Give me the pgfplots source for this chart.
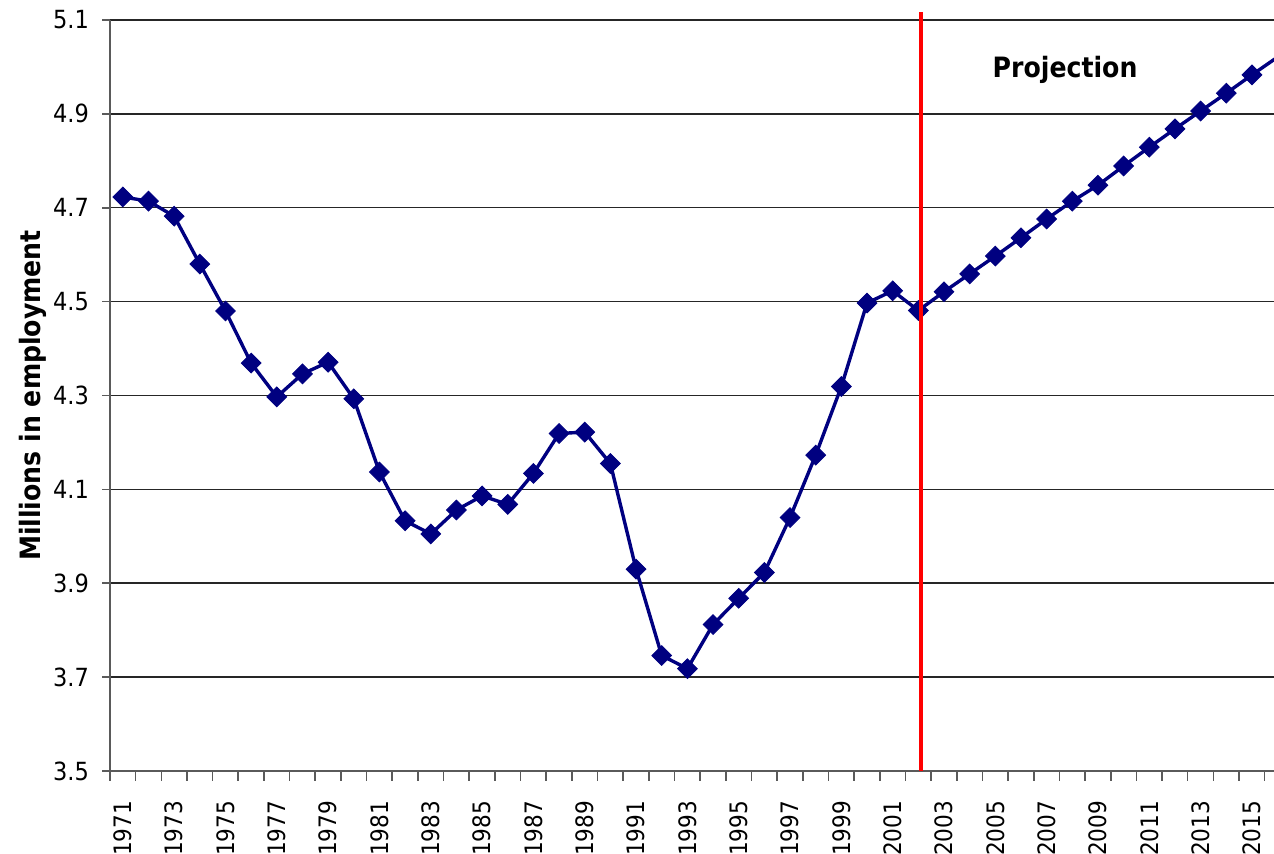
\documentclass[border=0pt]{standalone}
\usepackage{pgfplots}
\pgfplotsset{compat=1.18}
\usepackage{fontspec}
\setmainfont{DejaVu Sans Condensed}
\definecolor{navyline}{RGB}{0,0,128}
\definecolor{axisgray}{RGB}{90,90,90}
\begin{document}
\begin{tikzpicture}
\useasboundingbox (-55pt,-41.5pt) rectangle (582pt,385.5pt);
\begin{axis}[
  at={(0,0)}, anchor=south west,
  scale only axis,
  width=582pt, height=375.5pt,
  xmin=1970.5, xmax=2015.86,
  ymin=3.5, ymax=5.1,
  axis lines*=left,
  axis line style={draw=axisgray, line width=0.8pt, -},
  clip mode=individual,
  ytick={3.5,3.7,...,5.15},
  y tick label style={font=\fontsize{12.5}{14}\selectfont, xshift=-3pt,
    /pgf/number format/fixed, /pgf/number format/fixed zerofill, /pgf/number format/precision=1},
  xtick={1971,1973,...,2015},
  minor xtick={1970.5,1971.5,...,2015.6},
  major x tick style={draw=none},
  minor x tick style={draw=axisgray, line width=0.8pt},
  minor tick length=5pt,
  major tick length=4pt,
  y tick style={draw=axisgray, line width=0.8pt},
  tick align=outside,
  x tick label style={font=\fontsize{12}{14}\selectfont, rotate=90, anchor=east, xshift=-7.5pt,
    /pgf/number format/1000 sep={}},
  /pgf/number format/assume math mode=true,
  ymajorgrids,
  grid style={draw=black!85, line width=0.75pt},
  every axis y label/.style={at={(axis description cs:-0.066,0.5)}, rotate=90, anchor=center},
  ylabel={\fontsize{14}{16}\selectfont\bfseries Millions in employment},
]
\addplot[color=navyline, line width=1.7pt, mark=square*, mark size=3.5pt,
  mark options={rotate=45, fill=navyline, draw=navyline, line width=0.4pt}]
coordinates {
(1971,4.723) (1972,4.714) (1973,4.682) (1974,4.580) (1975,4.480)
(1976,4.369) (1977,4.297) (1978,4.346) (1979,4.371) (1980,4.293)
(1981,4.137) (1982,4.033) (1983,4.005) (1984,4.056) (1985,4.086)
(1986,4.068) (1987,4.134) (1988,4.219) (1989,4.222) (1990,4.155)
(1991,3.930) (1992,3.746) (1993,3.718) (1994,3.812) (1995,3.868)
(1996,3.923) (1997,4.040) (1998,4.173) (1999,4.319) (2000,4.497)
(2001,4.523) (2002,4.481) (2003,4.521) (2004,4.559) (2005,4.597)
(2006,4.636) (2007,4.676) (2008,4.714) (2009,4.748) (2010,4.789)
(2011,4.829) (2012,4.868) (2013,4.906) (2014,4.944) (2015,4.983)
(2016,5.021)
};
\draw[red, line width=1.8pt] (axis cs:2002.1,3.5) -- (axis cs:2002.1,5.117);
\node[font=\fontsize{14}{16}\selectfont\bfseries] at (axis cs:2007.72,4.993) {Projection};
\end{axis}
\end{tikzpicture}
\end{document}
